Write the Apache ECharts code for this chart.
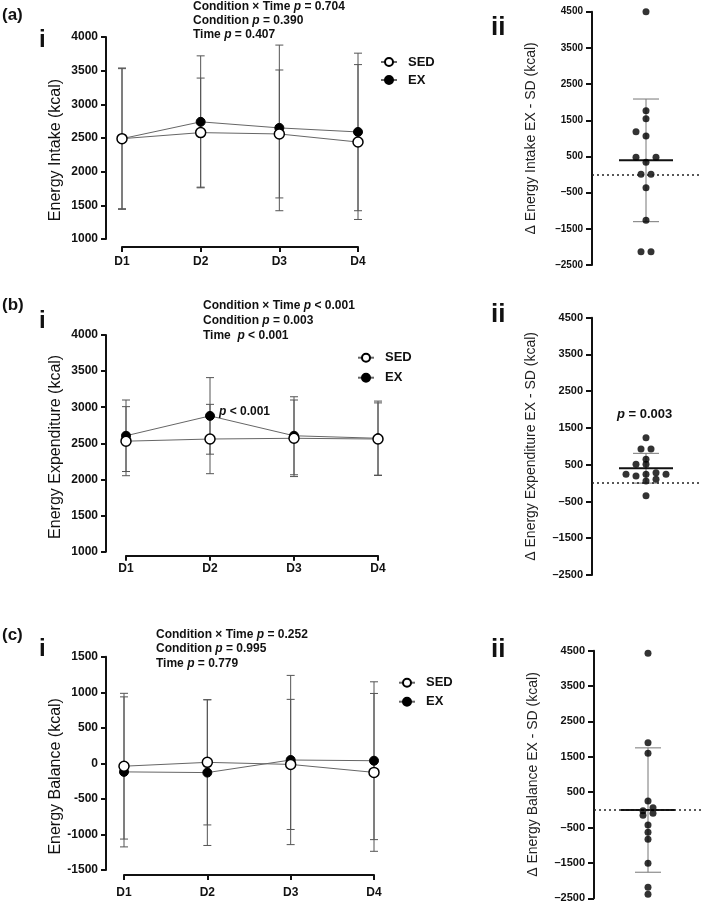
<!DOCTYPE html>
<html>
<head>
<meta charset="utf-8">
<script src="https://cdn.jsdelivr.net/npm/echarts@6/dist/echarts.min.js"></script>
<style>
html, body { margin: 0; padding: 0; background: #fff; }
#chart { width: 709px; height: 910px; }
</style>
</head>
<body>
<div id="chart"></div>
<script>
var FONT = '"Liberation Sans", Arial, sans-serif';
var days = ['D1', 'D2', 'D3', 'D4'];

// (a) energy intake, mean and SD per day
var intakeSed = [2490, 2580, 2560, 2440];
var intakeSedSd = [1040, 810, 950, 1150];
var intakeEx = [2490, 2740, 2650, 2590];
var intakeExSd = [1050, 980, 1230, 1170];

// (b) energy expenditure
var expendSed = [2530, 2560, 2570, 2560];
var expendSedSd = [478, 480, 530, 500];
var expendEx = [2605, 2880, 2605, 2570];
var expendExSd = [495, 530, 540, 515];

// (c) energy balance
var balanceSed = [-40, 14, -15, -127];
var balanceSedSd = [1025, 880, 915, 1110];
var balanceEx = [-120, -130, 47, 37];
var balanceExSd = [1055, 1025, 1190, 1110];

// individual differences EX - SED and their column in the dot plot
var intakeDiff = [4500, 1763, 1542, 1183, 1064, 475, 475, 337, 5, 5, -365, -1266, -2133, -2133];
var intakeCol = [0, 0, 0, -2, 0, -2, 2, 0, -1, 1, 0, 0, -1, 1];
var expendDiff = [1235, 928, 928, 647, 511, 511, 239, 193, 239, 283, 239, 57, 103, -343];
var expendCol = [0, -1, 1, 0, -2, 0, -4, -2, 0, 2, 4, 0, 2, 0];
var balanceDiff = [4427, 1900, 1600, 252, -22, -150, 60, -97, -427, -633, -831, -1510, -2188, -2386];
var balanceCol = [0, 0, 0, 0, -1, -1, 1, 1, 0, 0, 0, 0, 0, 0];
var diffMean = [392, 405, -5];
var diffSd = [1695, 405, 1758];

// p values of the two-way ANOVA
var pInter = ['= 0.704', '< 0.001', '= 0.252'];
var pCond = ['= 0.390', '= 0.003', '= 0.995'];
var pTime = ['= 0.407', '< 0.001', '= 0.779'];

var panels = [
  { sed: intakeSed, sedSd: intakeSedSd, ex: intakeEx, exSd: intakeExSd,
    diff: intakeDiff, col: intakeCol, min: 1000, max: 4000,
    name: 'Energy Intake (kcal)', diffName: '\u0394 Energy Intake EX - SD (kcal)',
    g: { left: 122, top: 37, width: 236, height: 202 }, yOff: 16, xOff: 8, xMargin: 9, shift: 24,
    g2: { left: 592, top: 11.7, width: 108, height: 253.3 }, tick2: 10,
    legend: { left: 380, top: 55, gap: 4 },
    letter: '(a)', letterTop: 6.5, iTop: 28.5, iiTop: 15, noteLeft: 193, noteTop: 0, noteLh: 14 },
  { sed: expendSed, sedSd: expendSedSd, ex: expendEx, exSd: expendExSd,
    diff: expendDiff, col: expendCol, min: 1000, max: 4000,
    name: 'Energy Expenditure (kcal)', diffName: '\u0394 Energy Expenditure EX - SD (kcal)',
    g: { left: 126, top: 335, width: 252, height: 216.7 }, yOff: 20, xOff: 4, xMargin: 7, shift: 7,
    g2: { left: 592, top: 317.7, width: 108, height: 257.3 }, tick2: 11,
    legend: { left: 357, top: 350.7, gap: 6 },
    letter: '(b)', letterTop: 297, iTop: 309, iiTop: 302, noteLeft: 203, noteTop: 298, noteLh: 15 },
  { sed: balanceSed, sedSd: balanceSedSd, ex: balanceEx, exSd: balanceExSd,
    diff: balanceDiff, col: balanceCol, min: -1500, max: 1500,
    name: 'Energy Balance (kcal)', diffName: '\u0394 Energy Balance EX - SD (kcal)',
    g: { left: 124, top: 656.7, width: 250, height: 213.3 }, yOff: 18, xOff: 5, xMargin: 12, shift: 26,
    g2: { left: 594, top: 650.7, width: 108, height: 247.6 }, tick2: 11,
    legend: { left: 398, top: 675.7, gap: 5 },
    letter: '(c)', letterTop: 627, iTop: 637.5, iiTop: 637, noteLeft: 156, noteTop: 627, noteLh: 14.5 }
];

function errorBar(params, api) {
  var x = api.value(0);
  var hi = api.coord([x, api.value(2)]);
  var lo = api.coord([x, api.value(1)]);
  function seg(x1, y1, x2, y2) {
    return { type: 'line', shape: { x1: x1, y1: y1, x2: x2, y2: y2 },
      style: { stroke: '#555', lineWidth: 1 } };
  }
  return { type: 'group', children: [
    seg(hi[0], hi[1], lo[0], lo[1]),
    seg(hi[0] - 4, hi[1], hi[0] + 4, hi[1]),
    seg(lo[0] - 4, lo[1], lo[0] + 4, lo[1])
  ] };
}

function meanSd(params, api) {
  var m = api.value(1), s = api.value(2);
  var c = api.coord([0, m]);
  var hi = api.coord([0, m + s]);
  var lo = api.coord([0, m - s]);
  function seg(x1, y1, x2, y2, col, w) {
    return { type: 'line', shape: { x1: x1, y1: y1, x2: x2, y2: y2 },
      style: { stroke: col, lineWidth: w } };
  }
  return { type: 'group', children: [
    seg(hi[0], hi[1], lo[0], lo[1], '#777', 1),
    seg(hi[0] - 13, hi[1], hi[0] + 13, hi[1], '#777', 1),
    seg(lo[0] - 13, lo[1], lo[0] + 13, lo[1], '#777', 1),
    seg(c[0] - 27, c[1], c[0] + 27, c[1], '#111', 2)
  ] };
}

var rich = {
  n: { fontFamily: FONT, fontSize: 12, fontWeight: 'bold', color: '#111' },
  p: { fontFamily: FONT, fontSize: 12, fontWeight: 'bold', fontStyle: 'italic', color: '#111' }
};
function pText(label, p) {
  return '{n|' + label + ' }{p|p}{n| ' + p + '}';
}

var grid = [], xAxis = [], yAxis = [], series = [], legend = [], title = [];

panels.forEach(function (P, k) {
  var gi = grid.length;
  grid.push({ left: P.g.left, top: P.g.top, width: P.g.width, height: P.g.height, containLabel: false, outerBoundsMode: 'none' });
  grid.push({ left: P.g2.left, top: P.g2.top, width: P.g2.width, height: P.g2.height, containLabel: false, outerBoundsMode: 'none' });

  xAxis.push({
    type: 'category', gridIndex: gi, data: days, boundaryGap: false, offset: P.xOff, position: 'bottom',
    axisLine: { show: true, onZero: false, lineStyle: { color: '#111', width: 2 } },
    axisTick: { show: true, length: 5, lineStyle: { color: '#111', width: 2 } },
    axisLabel: { interval: 0, margin: P.xMargin, color: '#111', fontFamily: FONT, fontSize: 12, fontWeight: 'bold' },
    splitLine: { show: false }
  });
  xAxis.push({ type: 'value', gridIndex: gi + 1, min: -10.8, max: 10.8, show: false,
    axisLine: { onZero: false } });

  yAxis.push({
    type: 'value', gridIndex: gi, min: P.min, max: P.max, interval: 500, offset: P.yOff, position: 'left',
    axisLine: { show: true, onZero: false, lineStyle: { color: '#111', width: 2 } },
    axisTick: { show: true, length: 5, lineStyle: { color: '#111', width: 2 } },
    axisLabel: { margin: 8, color: '#111', fontFamily: FONT, fontSize: 12, fontWeight: 'bold',
      formatter: function (v) { return String(v); } },
    splitLine: { show: false },
    name: P.name, nameLocation: 'middle', nameGap: 42,
    nameTextStyle: { fontFamily: FONT, fontSize: 16, color: '#111', padding: [0, P.shift, 0, 0] }
  });
  yAxis.push({
    type: 'value', gridIndex: gi + 1, min: -2500, max: 4500, interval: 1000, position: 'left',
    axisLine: { show: true, onZero: false, lineStyle: { color: '#111', width: 2 } },
    axisTick: { show: true, length: 6, lineStyle: { color: '#111', width: 2 } },
    axisLabel: { margin: 9, color: '#111', fontFamily: FONT, fontSize: P.tick2, fontWeight: 'bold',
      formatter: function (v) { return v < 0 ? '\u2013' + Math.abs(v) : String(v); } },
    splitLine: { show: false },
    name: P.diffName, nameLocation: 'middle', nameGap: 54,
    nameTextStyle: { fontFamily: FONT, fontSize: 14, color: '#222' }
  });

  function bars(mean, sd) {
    return mean.map(function (m, i) { return [i, m - sd[i], m + sd[i]]; });
  }
  [[P.ex, P.exSd], [P.sed, P.sedSd]].forEach(function (d) {
    series.push({
      type: 'custom', xAxisIndex: gi, yAxisIndex: gi, renderItem: errorBar,
      data: bars(d[0], d[1]), encode: { x: 0, y: [1, 2] }, z: 1, silent: true
    });
  });

  var exData = P.ex.slice();
  if (k === 1) {
    exData[1] = { value: P.ex[1], label: { show: true, position: 'right', distance: 4, offset: [0, -4],
      formatter: '{p|p}{n| < 0.001}', rich: rich } };
  }
  series.push({
    name: 'EX', type: 'line', xAxisIndex: gi, yAxisIndex: gi, data: exData, clip: false,
    symbol: 'circle', symbolSize: 9, showAllSymbol: true,
    itemStyle: { color: '#000', borderColor: '#000', borderWidth: 1 },
    lineStyle: { color: '#666', width: 1 }, z: 3
  });
  series.push({
    name: 'SED', type: 'line', xAxisIndex: gi, yAxisIndex: gi, data: P.sed, clip: false,
    symbol: 'circle', symbolSize: 10, showAllSymbol: true,
    itemStyle: { color: '#fff', borderColor: '#000', borderWidth: 1.5 },
    lineStyle: { color: '#666', width: 1 }, z: 4
  });

  series.push({
    type: 'custom', xAxisIndex: gi + 1, yAxisIndex: gi + 1, renderItem: meanSd,
    data: [[0, diffMean[k], diffSd[k]]], encode: { x: 0, y: 1 }, z: 1, silent: true
  });
  series.push({
    type: 'scatter', xAxisIndex: gi + 1, yAxisIndex: gi + 1, clip: false,
    data: P.diff.map(function (v, i) { return [P.col[i], v]; }),
    symbol: 'circle', symbolSize: 7, itemStyle: { color: '#000' }, z: 2,
    markLine: { silent: true, symbol: ['none', 'none'], label: { show: false },
      lineStyle: { type: [2, 3], color: '#222', width: 1.5 }, data: [{ yAxis: 0 }] }
  });

  legend.push({
    left: P.legend.left, top: P.legend.top, orient: 'vertical', padding: 0,
    itemWidth: 16, itemHeight: 10, itemGap: P.legend.gap, selectedMode: false,
    data: ['SED', 'EX'],
    textStyle: { fontFamily: FONT, fontSize: 13, fontWeight: 'bold', color: '#111', lineHeight: 14, padding: [0, 0, 0, 6] }
  });

  title.push({ text: P.letter, left: 2, top: P.letterTop, padding: 0,
    textStyle: { fontFamily: FONT, fontSize: 17, fontWeight: 'bold', color: '#111', lineHeight: 17 } });
  title.push({ text: 'i', left: 39, top: P.iTop, padding: 0,
    textStyle: { fontFamily: FONT, fontSize: 24, fontWeight: 'bold', color: '#111', lineHeight: 24 } });
  title.push({ text: 'ii', left: 491, top: P.iiTop, padding: 0,
    textStyle: { fontFamily: FONT, fontSize: 26, fontWeight: 'bold', color: '#111', lineHeight: 26 } });
  var timeLabel = k === 1 ? 'Time ' : 'Time';
  title.push({
    left: P.noteLeft, top: P.noteTop, padding: 0,
    text: [pText('Condition \u00d7 Time', pInter[k]), pText('Condition', pCond[k]), pText(timeLabel, pTime[k])].join('\n'),
    textStyle: { fontFamily: FONT, fontSize: 12, fontWeight: 'bold', lineHeight: P.noteLh, color: '#111',
      rich: {
        n: { fontFamily: FONT, fontSize: 12, fontWeight: 'bold', color: '#111', lineHeight: P.noteLh },
        p: { fontFamily: FONT, fontSize: 12, fontWeight: 'bold', fontStyle: 'italic', color: '#111', lineHeight: P.noteLh }
      } }
  });
});

// paired t-test result above the expenditure dot plot
title.push({
  left: 617, top: 408, padding: 0,
  text: '{p|p}{n| = 0.003}',
  textStyle: { rich: {
    n: { fontFamily: FONT, fontSize: 13, fontWeight: 'bold', color: '#111' },
    p: { fontFamily: FONT, fontSize: 13, fontWeight: 'bold', fontStyle: 'italic', color: '#111' }
  } }
});

var myChart = echarts.init(document.getElementById('chart'));
myChart.setOption({
  animation: false,
  backgroundColor: '#fff',
  title: title,
  legend: legend,
  grid: grid,
  xAxis: xAxis,
  yAxis: yAxis,
  series: series
});
</script>
</body>
</html>
